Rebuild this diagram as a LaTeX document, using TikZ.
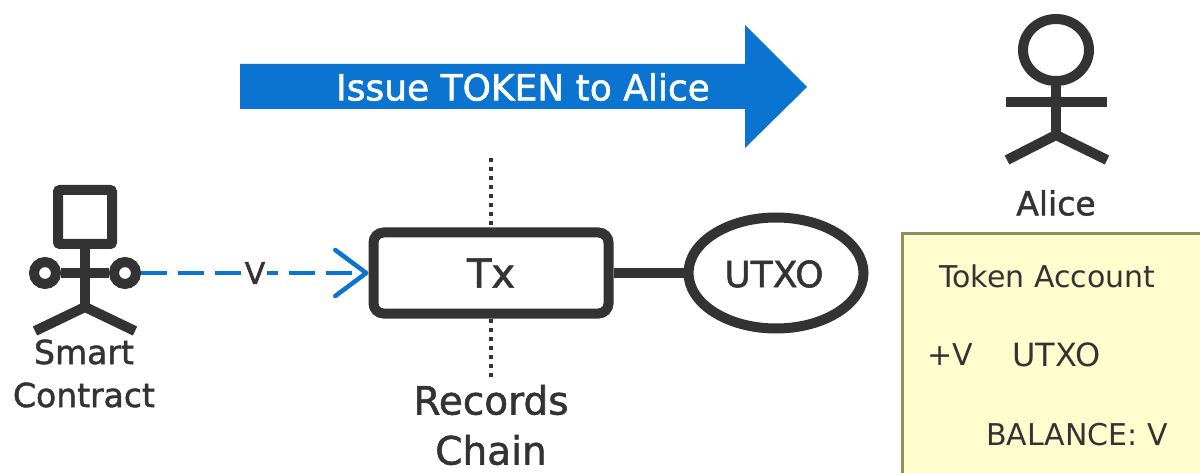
\documentclass[tikz,border=0pt]{standalone}
\usepackage{fontspec}
\setmainfont{DejaVu Sans}
\newfontfamily\heavy[FakeBold=1.5]{DejaVu Sans}
\usetikzlibrary{arrows.meta,shapes.geometric}
\definecolor{ink}{HTML}{333333}
\definecolor{flow}{HTML}{0A74D0}
\definecolor{notefill}{HTML}{FFFCCD}
\definecolor{noteedge}{HTML}{8F8F60}
\newcommand{\fs}[1]{\fontsize{#1}{#1}\selectfont}
\tikzset{
  limb/.style={draw=ink,line width=10pt},
  lbl/.style={inner sep=0pt,text=ink,font=\heavy\fs{33}},
  notetxt/.style={inner sep=0pt,text=ink,font=\fs{30},anchor=west},
  dots/.style={draw=ink,line width=4pt,dash pattern=on 4pt off 5pt},
  flowline/.style={draw=flow,line width=4.5pt,dash pattern=on 26pt off 11pt,
    -{Straight Barb[length=31pt,width=46pt,line width=4.5pt,round]}}
}
\begin{document}
\begin{tikzpicture}[x=1pt,y=-1pt]
\useasboundingbox (0,0) rectangle (1200,473);
\clip (0,0) rectangle (1200,473);
\fill[white] (0,0) rectangle (1200,473);
% big arrow
\fill[flow] (240,64) -- (745,64) -- (745,25) -- (807,87) -- (745,148) -- (745,109) -- (240,109) -- cycle;
\node[inner sep=0pt,text=white,font=\heavy\fs{36}] (issue) at (523,87) {Issue TOKEN to Alice};
% smart contract actor
\node[draw=ink,line width=10pt,rounded corners=2pt,minimum width=54pt,minimum height=54pt,inner sep=0pt,outer sep=0pt] (sbox) at (85,217) {};
\node[circle,draw=ink,line width=10pt,minimum size=22pt,inner sep=0pt] (hl) at (45,273) {};
\node[circle,draw=ink,line width=10pt,minimum size=22pt,inner sep=0pt] (hr) at (125,273) {};
\coordinate (shub) at (85,307);
\coordinate (sfl) at (35,331);
\coordinate (sfr) at (135,331);
\draw[limb] (sbox.south) -- (shub);
\draw[limb] (hl) -- (hr);
\draw[limb,line join=miter] (sfl) -- (shub) -- (sfr);
\node[lbl] (sc1) at (84,352) {Smart};
\node[lbl] (sc2) at (84,395) {Contract};
% Tx
\node[draw=ink,line width=10pt,rounded corners=10pt,minimum width=235pt,minimum height=81pt,inner sep=0pt] (tx) at (491,273) {};
\node[lbl,font=\heavy\fs{40}] (txl) at (491,273) {Tx};
\node[ellipse,draw=ink,line width=10pt,minimum width=175pt,minimum height=111pt,inner sep=0pt] (utxo) at (776,273) {};
\node[lbl,font=\heavy\fs{36}] (utxol) at (774,274) {UTXO};
\draw[draw=ink,line width=10pt] (tx.east) -- (utxo.west);
% dotted
\coordinate (dt) at (491,158);
\coordinate (db) at (491,381);
\draw[dots] (dt) -- (tx.north);
\draw[dots] (tx.south) -- (db);
\node[lbl,font=\heavy\fs{39}] (r1) at (491,400) {Records};
\node[lbl,font=\heavy\fs{39}] (r2) at (491,450) {Chain};
% dashed connector
\draw[flowline] (hr.east) -- (tx.west);
\node[fill=white,inner xsep=2pt,inner ysep=0pt,text=ink,font=\heavy\fs{30}] (v) at (255,273) {V};
% Alice
\node[ellipse,draw=ink,line width=10pt,minimum width=66pt,minimum height=62pt,inner sep=0pt] (ahead) at (1056,50) {};
\coordinate (ahub) at (1056,135);
\coordinate (aal) at (1006,102);
\coordinate (aar) at (1107,102);
\coordinate (afl) at (1007,160);
\coordinate (afr) at (1107,160);
\draw[limb] (ahead.south) -- (ahub);
\draw[limb] (aal) -- (aar);
\draw[limb] (afl) -- (ahub) -- (afr);
\node[lbl] (alice) at (1056,203) {Alice};
% note
\node[draw=noteedge,fill=notefill,line width=3pt,minimum width=340pt,minimum height=300pt,anchor=north west,inner sep=0pt] (note) at (901,232) {};
\node[notetxt] (n1) at (939,276) {Token Account};
\node[notetxt] (n2) at (927,355) {+V};
\node[notetxt,font=\fs{32}] (n3) at (1012,355) {UTXO};
\node[notetxt] (n4) at (986,435) {BALANCE: V};
\end{tikzpicture}
\end{document}
